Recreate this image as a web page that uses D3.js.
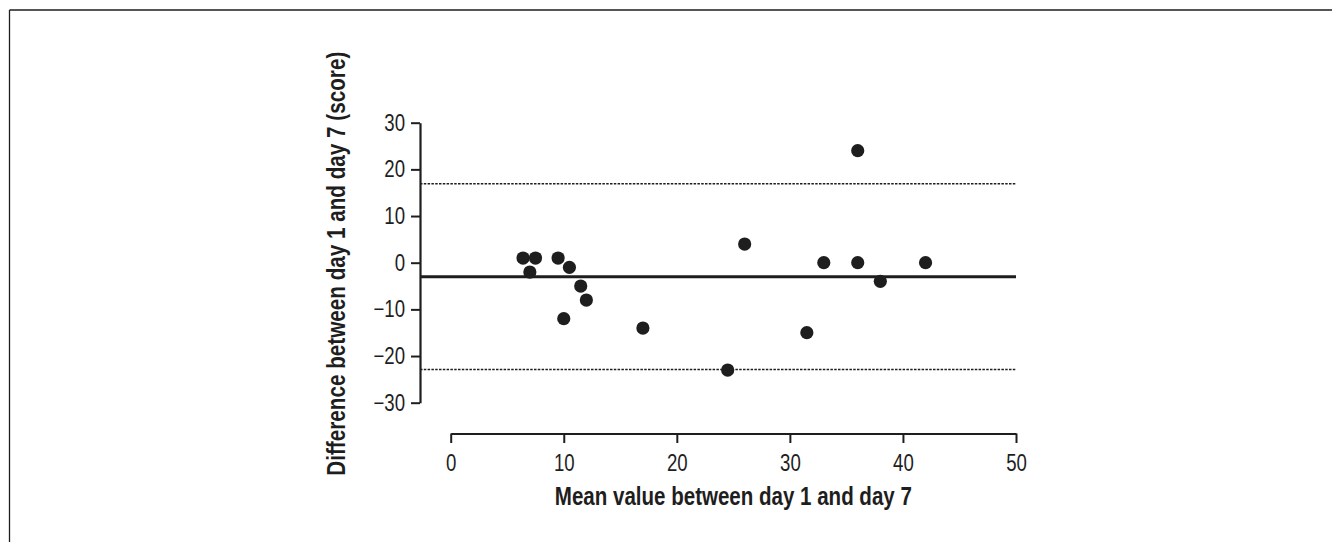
<!DOCTYPE html>
<html><head><meta charset="utf-8">
<script src="https://cdn.jsdelivr.net/npm/d3@7"></script>
<style>
html,body{margin:0;padding:0;background:#fff;}
svg text{font-family:"Liberation Sans Narrow","Liberation Sans",Arial,sans-serif;fill:#1e1e1e;}
</style></head>
<body>
<svg id="c" width="1332" height="542"></svg>
<script>
// Data: Bland-Altman plot
const meanValues = [6.4, 7.5, 7.0, 9.5, 10.5, 11.5, 12.0, 10.0, 17.0, 24.5, 26.0, 31.5, 33.0, 36.0, 36.0, 38.0, 42.0];
const differences = [1, 1, -2, 1, -1, -5, -8, -12, -14, -23, 4, -15, 0, 24, 0, -4, 0];
const biasLine = -3;
const limitsOfAgreement = [16.9, -22.9];
const xTicks = [0, 10, 20, 30, 40, 50];
const yTicks = [30, 20, 10, 0, -10, -20, -30];
const xTitle = "Mean value between day 1 and day 7";
const yTitle = "Difference between day 1 and day 7 (score)";

const svg = d3.select("#c");
const ink = "#1e1e1e";
const narrow = 0.81;

// frame lines (top and left)
svg.append("line").attr("x1", 9.5).attr("x2", 1332).attr("y1", 10).attr("y2", 10).attr("stroke", ink).attr("stroke-width", 1.3);
svg.append("line").attr("x1", 9.5).attr("x2", 9.5).attr("y1", 10).attr("y2", 542).attr("stroke", ink).attr("stroke-width", 1.3);

const x = d3.scaleLinear().domain([0, 50]).range([450.7, 1016]);
const y = d3.scaleLinear().domain([-30, 30]).range([402.7, 122.7]);
const yAxisX = 420;
const xAxisY = 433.5;

function condense(sel) {
  sel.each(function () {
    const w = this.getComputedTextLength();
    this.setAttribute("textLength", (w * narrow).toFixed(2));
    this.setAttribute("lengthAdjust", "spacingAndGlyphs");
  });
}

// X axis
const gx = svg.append("g").attr("transform", `translate(0,${xAxisY})`)
  .call(d3.axisBottom(x).tickValues(xTicks).tickSize(9.5).tickPadding(12).tickSizeOuter(0));
gx.select(".domain").attr("stroke", ink).attr("stroke-width", 2.2);
gx.selectAll(".tick line").attr("stroke", ink).attr("stroke-width", 2);
gx.selectAll(".tick text").attr("font-size", 23).attr("font-family", null).style("fill", ink).call(condense);

// Y axis
const gy = svg.append("g").attr("transform", `translate(${yAxisX},0)`)
  .call(d3.axisLeft(y).tickValues(yTicks).tickSize(9).tickPadding(6).tickSizeOuter(0)
    .tickFormat(d => d < 0 ? "\u2212" + Math.abs(d) : String(d)));
gy.select(".domain").attr("stroke", ink).attr("stroke-width", 2.2);
gy.selectAll(".tick line").attr("stroke", ink).attr("stroke-width", 2);
gy.selectAll(".tick text").attr("font-size", 23).attr("font-family", null).style("fill", ink).call(condense);

// bias and limits
svg.append("line").attr("x1", yAxisX).attr("x2", x(50)).attr("y1", y(biasLine)).attr("y2", y(biasLine))
  .attr("stroke", ink).attr("stroke-width", 3);
svg.selectAll("line.loa").data(limitsOfAgreement).enter().append("line").attr("class", "loa")
  .attr("x1", yAxisX).attr("x2", x(50)).attr("y1", d => y(d)).attr("y2", d => y(d))
  .attr("stroke", ink).attr("stroke-width", 1.5).attr("stroke-dasharray", "2.5,1.3");

// points
svg.selectAll("circle.pt").data(meanValues.map((m, i) => [m, differences[i]])).enter()
  .append("circle").attr("class", "pt")
  .attr("cx", d => x(d[0])).attr("cy", d => y(d[1])).attr("r", 6.6).attr("fill", ink);

// titles
svg.append("text").attr("x", (x(0) + x(50)) / 2).attr("y", 505).attr("text-anchor", "middle")
  .attr("font-size", 25).attr("font-weight", "bold")
  .attr("textLength", 357).attr("lengthAdjust", "spacingAndGlyphs").text(xTitle);
svg.append("text").attr("transform", `translate(345,${(y(30) + y(-30)) / 2 + 1}) rotate(-90)`)
  .attr("text-anchor", "middle").attr("font-size", 25).attr("font-weight", "bold")
  .attr("textLength", 424).attr("lengthAdjust", "spacingAndGlyphs").text(yTitle);
</script>
</body></html>
